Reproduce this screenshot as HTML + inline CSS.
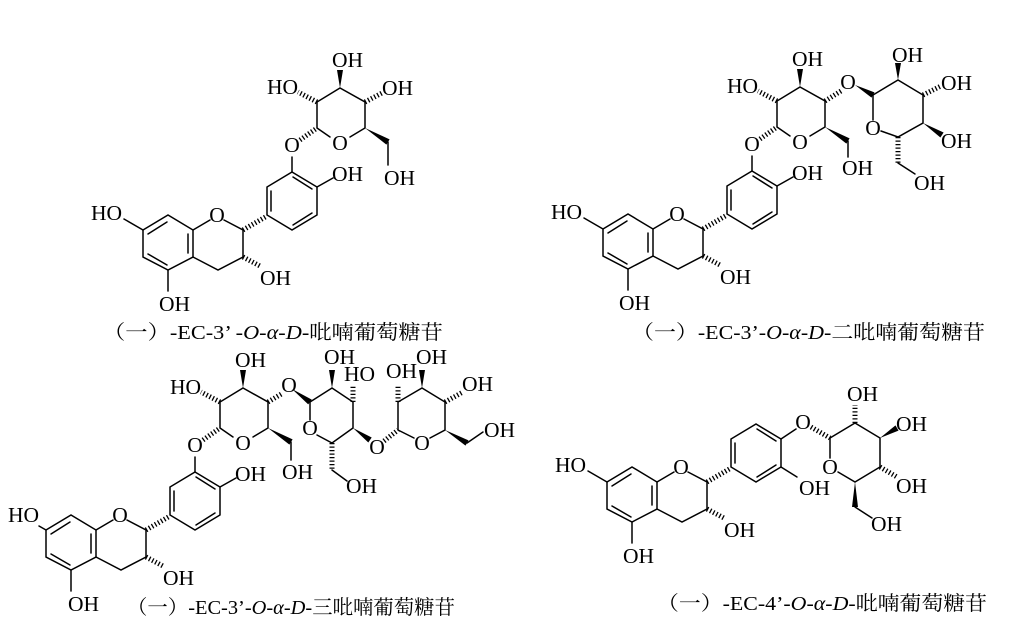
<!DOCTYPE html>
<html><head><meta charset="utf-8"><style>
html,body{margin:0;padding:0;background:#fff;}
svg{display:block;}
text{font-family:"Liberation Serif","Noto Serif CJK SC",serif;font-size:21.5px;fill:#000;}
.cap{font-family:"Liberation Serif","Noto Serif CJK SC",serif;font-size:20px;}
.l{stroke:#000;stroke-width:1.5;fill:none;stroke-linecap:round;}
.h{stroke:#000;stroke-width:5;stroke-dasharray:1.3 2.2;fill:none;}
.w{fill:#000;stroke:none;}
</style></head><body>
<svg width="1033" height="631" viewBox="0 0 1033 631" xmlns="http://www.w3.org/2000/svg">

<!-- Structure 1 -->
<g>
<path class="l" d="M143,230 L168,215 L193,230 L193,257 L168,270 L143,257 Z"/>
<path class="l" d="M148,234 L167,222 M188,234 L188,253 M148,254 L167,265"/>
<path class="l" d="M193,230 L210,220 M224,220 L243,230 L243,257 L218,270 L193,257"/>
<text x="217" y="222" text-anchor="middle">O</text>
<path class="l" d="M143,230 L124,219"/><text x="122" y="220" text-anchor="end">HO</text>
<path class="l" d="M168,270 L168,291"/><text x="159" y="311">OH</text>
<path class="h" d="M243,257 L260,266"/><text x="260" y="285">OH</text>
<path class="h" d="M243,230 L267,216"/>
<path class="l" d="M267,215 L267,187 L292,172 L317,187 L317,215 L292,230 Z"/>
<path class="l" d="M271,191 L271,211 M293,177 L312,189 M312,213 L293,225"/>
<path class="l" d="M292,172 L292,157"/><text x="292" y="152" text-anchor="middle">O</text>
<path class="l" d="M317,187 L333,178"/><text x="332" y="181">OH</text>
<path class="h" d="M300,140 L317,128"/>
<path class="l" d="M317,128 L317,102 L340,88 L365,102 L365,128 L350,137 M330,137 L317,128"/>
<text x="340" y="150" text-anchor="middle">O</text>
<path class="h" d="M317,102 L298,92"/><text x="298" y="94" text-anchor="end">HO</text>
<polygon class="w" points="340,88 337,70 343,70"/><text x="332" y="67">OH</text>
<path class="h" d="M365,102 L382,93"/><text x="382" y="95">OH</text>
<polygon class="w" points="365,128 386.4,144.6 389.6,139.4"/>
<path class="l" d="M388,142 L388,165"/><text x="384" y="185">OH</text>
</g>
<text class="cap" x="103" y="339" textLength="340" lengthAdjust="spacingAndGlyphs">（一）-EC-3’ -<tspan font-style="italic">O</tspan>-<tspan font-style="italic">α</tspan>-<tspan font-style="italic">D</tspan>-吡喃葡萄糖苷</text>

<!-- Structure 2 -->
<g transform="translate(460,-1)">
<path class="l" d="M143,230 L168,215 L193,230 L193,257 L168,270 L143,257 Z"/>
<path class="l" d="M148,234 L167,222 M188,234 L188,253 M148,254 L167,265"/>
<path class="l" d="M193,230 L210,220 M224,220 L243,230 L243,257 L218,270 L193,257"/>
<text x="217" y="222" text-anchor="middle">O</text>
<path class="l" d="M143,230 L124,219"/><text x="122" y="220" text-anchor="end">HO</text>
<path class="l" d="M168,270 L168,291"/><text x="159" y="311">OH</text>
<path class="h" d="M243,257 L260,266"/><text x="260" y="285">OH</text>
<path class="h" d="M243,230 L267,216"/>
<path class="l" d="M267,215 L267,187 L292,172 L317,187 L317,215 L292,230 Z"/>
<path class="l" d="M271,191 L271,211 M293,177 L312,189 M312,213 L293,225"/>
<path class="l" d="M292,172 L292,157"/><text x="292" y="152" text-anchor="middle">O</text>
<path class="l" d="M317,187 L333,178"/><text x="332" y="181">OH</text>
<path class="h" d="M300,140 L317,128"/>
<path class="l" d="M317,128 L317,102 L340,88 L365,102 L365,128 L350,137 M330,137 L317,128"/>
<text x="340" y="150" text-anchor="middle">O</text>
<path class="h" d="M317,102 L298,92"/><text x="298" y="94" text-anchor="end">HO</text>
<polygon class="w" points="340,88 337,70 343,70"/><text x="332" y="67">OH</text>
<path class="h" d="M365,102 L381,92"/><text x="388" y="90" text-anchor="middle">O</text>
<polygon class="w" points="365,128 386.4,144.6 389.6,139.4"/>
<path class="l" d="M388,142 L388,158"/><text x="382" y="176">OH</text>
</g>
<polygon class="w" points="855,85 871.5,97.6 874.5,92.4"/>
<path class="l" d="M873,95 L898,80 L923,95 L923,123 L898,137 L881,131 M873,95 L873,120"/>
<text x="873" y="135" text-anchor="middle">O</text>
<polygon class="w" points="898,80 895,63 901,63"/><text x="892" y="62">OH</text>
<path class="h" d="M923,95 L941,86"/><text x="941" y="90">OH</text>
<polygon class="w" points="923,123 940.4,137.5 943.6,132.5"/><text x="941" y="148">OH</text>
<path class="h" d="M898,137 L898,163"/><path class="l" d="M898,163 L915,174"/><text x="914" y="190">OH</text>
<text class="cap" x="632" y="339" textLength="353" lengthAdjust="spacingAndGlyphs">（一）-EC-3’-<tspan font-style="italic">O</tspan>-<tspan font-style="italic">α</tspan>-<tspan font-style="italic">D</tspan>-二吡喃葡萄糖苷</text>

<!-- Structure 3 -->
<g transform="translate(-97,300)">
<path class="l" d="M143,230 L168,215 L193,230 L193,257 L168,270 L143,257 Z"/>
<path class="l" d="M148,234 L167,222 M188,234 L188,253 M148,254 L167,265"/>
<path class="l" d="M193,230 L210,220 M224,220 L243,230 L243,257 L218,270 L193,257"/>
<text x="217" y="222" text-anchor="middle">O</text>
<path class="l" d="M143,230 L136,226"/><text x="136" y="222" text-anchor="end">HO</text>
<path class="l" d="M168,270 L168,291"/><text x="165" y="311">OH</text>
<path class="h" d="M243,257 L260,266"/><text x="260" y="285">OH</text>
<path class="h" d="M243,230 L267,216"/>
<path class="l" d="M267,215 L267,187 L292,172 L317,187 L317,215 L292,230 Z"/>
<path class="l" d="M271,191 L271,211 M293,177 L312,189 M312,213 L293,225"/>
<path class="l" d="M292,172 L292,157"/><text x="292" y="152" text-anchor="middle">O</text>
<path class="l" d="M317,187 L333,178"/><text x="332" y="181">OH</text>
<path class="h" d="M300,140 L317,128"/>
<path class="l" d="M317,128 L317,102 L340,88 L365,102 L365,128 L350,137 M330,137 L317,128"/>
<text x="340" y="150" text-anchor="middle">O</text>
<path class="h" d="M317,102 L298,92"/><text x="298" y="94" text-anchor="end">HO</text>
<polygon class="w" points="340,88 337,70 343,70"/><text x="332" y="67">OH</text>
<path class="h" d="M365,102 L380,93"/><text x="386" y="92" text-anchor="middle">O</text>
<polygon class="w" points="365,128 386.4,144.6 389.6,139.4"/>
<path class="l" d="M388,142 L388,160"/><text x="379" y="179">OH</text>
</g>
<polygon class="w" points="292,389 308.2,404.4 311.8,399.6"/>
<path class="l" d="M310,402 L332,388 L353,402 L353,428 L332,443 L317,435 M310,402 L310,420"/>
<text x="310" y="435" text-anchor="middle">O</text>
<polygon class="w" points="332,388 329,370 335,370"/><text x="324" y="364">OH</text>
<path class="h" d="M353,402 L353,385"/><text x="344" y="381">HO</text>
<polygon class="w" points="353,428 368.3,442.5 371.7,437.5"/><text x="377" y="454" text-anchor="middle">O</text>
<path class="h" d="M384,441 L398,430"/>
<path class="h" d="M332,443 L332,470"/><path class="l" d="M332,470 L347,481"/><text x="346" y="493">OH</text>
<path class="l" d="M398,430 L398,402 L422,388 L445,402 L445,430 L430,438 M414,438 L398,430"/>
<text x="422" y="450" text-anchor="middle">O</text>
<path class="h" d="M398,402 L398,385"/><text x="386" y="378">OH</text>
<polygon class="w" points="422,388 419,370 425,370"/><text x="416" y="364">OH</text>
<path class="h" d="M445,402 L463,392"/><text x="462" y="391">OH</text>
<polygon class="w" points="445,430 465.5,445.6 468.5,440.4"/><path class="l" d="M467,443 L483,432"/><text x="484" y="437">OH</text>
<text class="cap" x="127" y="614" textLength="328" lengthAdjust="spacingAndGlyphs">（一）-EC-3’-<tspan font-style="italic">O</tspan>-<tspan font-style="italic">α</tspan>-<tspan font-style="italic">D</tspan>-三吡喃葡萄糖苷</text>

<!-- Structure 4 -->
<g transform="translate(464,252)">
<path class="l" d="M143,230 L168,215 L193,230 L193,257 L168,270 L143,257 Z"/>
<path class="l" d="M148,234 L167,222 M188,234 L188,253 M148,254 L167,265"/>
<path class="l" d="M193,230 L210,220 M224,220 L243,230 L243,257 L218,270 L193,257"/>
<text x="217" y="222" text-anchor="middle">O</text>
<path class="l" d="M143,230 L124,219"/><text x="122" y="220" text-anchor="end">HO</text>
<path class="l" d="M168,270 L168,291"/><text x="159" y="311">OH</text>
<path class="h" d="M243,257 L260,266"/><text x="260" y="285">OH</text>
<path class="h" d="M243,230 L267,216"/>
<path class="l" d="M267,215 L267,187 L292,172 L317,187 L317,215 L292,230 Z"/>
<path class="l" d="M271,191 L271,211 M293,177 L312,189 M312,213 L293,225"/>
</g>
<path class="l" d="M781,439 L796,429"/><text x="803" y="429" text-anchor="middle">O</text>
<path class="h" d="M811,427 L830,438"/>
<path class="l" d="M781,467 L797,477"/><text x="799" y="495">OH</text>
<path class="l" d="M830,438 L855,423 L880,438 L880,467 L855,482 L838,472 M830,438 L830,458"/>
<text x="830" y="474" text-anchor="middle">O</text>
<path class="h" d="M855,423 L855,405"/><text x="847" y="401">OH</text>
<polygon class="w" points="880,438 898.5,430.6 895.5,425.4"/><text x="896" y="431">OH</text>
<path class="h" d="M880,467 L897,477"/><text x="896" y="493">OH</text>
<polygon class="w" points="855,482 852,507 858,507"/><path class="l" d="M855,507 L872,518"/><text x="871" y="531">OH</text>
<text class="cap" x="657" y="610" textLength="330" lengthAdjust="spacingAndGlyphs">（一）-EC-4’-<tspan font-style="italic">O</tspan>-<tspan font-style="italic">α</tspan>-<tspan font-style="italic">D</tspan>-吡喃葡萄糖苷</text>
</svg>
</body></html>
